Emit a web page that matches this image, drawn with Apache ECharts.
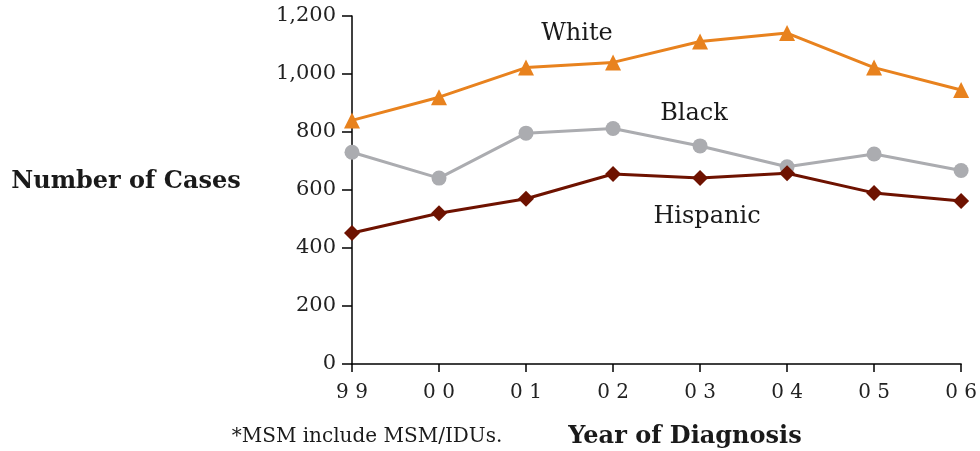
<!DOCTYPE html>
<html>
<head>
<meta charset="utf-8">
<script src="https://cdn.jsdelivr.net/npm/echarts@6/dist/echarts.min.js"></script>
<style>html,body{margin:0;padding:0;background:#fff}#c{width:980px;height:451px}</style>
</head>
<body>
<div id="c"></div>
<script>
var categories = ['9 9','0 0','0 1','0 2','0 3','0 4','0 5','0 6'];
var whiteVals = [840, 920, 1022, 1040, 1112, 1141, 1022, 945];
var blackVals = [730, 641, 796, 812, 752, 680, 724, 667];
var hispanicVals = [452, 520, 570, 655, 641, 658, 590, 562];
var yTicks = [0, 200, 400, 600, 800, 1000, 1200];
var seriesNames = ['White', 'Black', 'Hispanic'];

var FONT = 'DejaVu Serif';
var chart = echarts.init(document.getElementById('c'), null, {renderer: 'canvas'});
function fmt(v){ return v.toLocaleString('en-US'); }
function txt(t, x, y, font){
  return {type: 'text', x: x, y: y, style: {text: t, font: font, fill: '#1a1a1a', align: 'center', verticalAlign: 'middle'}};
}
chart.setOption({
  animation: false,
  backgroundColor: '#ffffff',
  grid: {left: 352, right: 18, top: 16, bottom: 87, containLabel: false},
  xAxis: {
    type: 'category', data: categories, boundaryGap: false,
    axisLine: {lineStyle: {color: '#000', width: 1.5}},
    axisTick: {show: true, length: 8, inside: false, lineStyle: {color: '#000', width: 1.5}},
    axisLabel: {color: '#222', fontFamily: FONT, fontSize: 20, margin: 19},
    splitLine: {show: false}
  },
  yAxis: {
    type: 'value', min: 0, max: 1200, interval: 200,
    axisLine: {show: true, lineStyle: {color: '#000', width: 1.5}},
    axisTick: {show: true, length: 10, lineStyle: {color: '#000', width: 1.5}},
    axisLabel: {color: '#222', fontFamily: FONT, fontSize: 21, margin: 16, formatter: function(v){ return yTicks.indexOf(v) >= 0 ? fmt(v) : ''; }},
    splitLine: {show: false}
  },
  series: [
    {name: seriesNames[0], type: 'line', data: whiteVals, symbol: 'triangle', symbolSize: 16,
     lineStyle: {color: '#E8821E', width: 3}, itemStyle: {color: '#E8821E'}},
    {name: seriesNames[1], type: 'line', data: blackVals, symbol: 'circle', symbolSize: 15,
     lineStyle: {color: '#ABACB0', width: 3}, itemStyle: {color: '#ABACB0'}},
    {name: seriesNames[2], type: 'line', data: hispanicVals, symbol: 'diamond', symbolSize: 16,
     lineStyle: {color: '#6E1200', width: 3}, itemStyle: {color: '#6E1200'}}
  ],
  graphic: [
    txt(seriesNames[0], 577, 34, '24px "' + FONT + '"'),
    txt(seriesNames[1], 694, 114, '24px "' + FONT + '"'),
    txt(seriesNames[2], 707, 217, '24px "' + FONT + '"'),
    txt('Number of Cases', 126, 182, 'bold 24px "' + FONT + '"'),
    txt('Year of Diagnosis', 685, 437, 'bold 24px "' + FONT + '"'),
    txt('*MSM include MSM/IDUs.', 367, 437, '20px "' + FONT + '"')
  ]
});
</script>
</body>
</html>
